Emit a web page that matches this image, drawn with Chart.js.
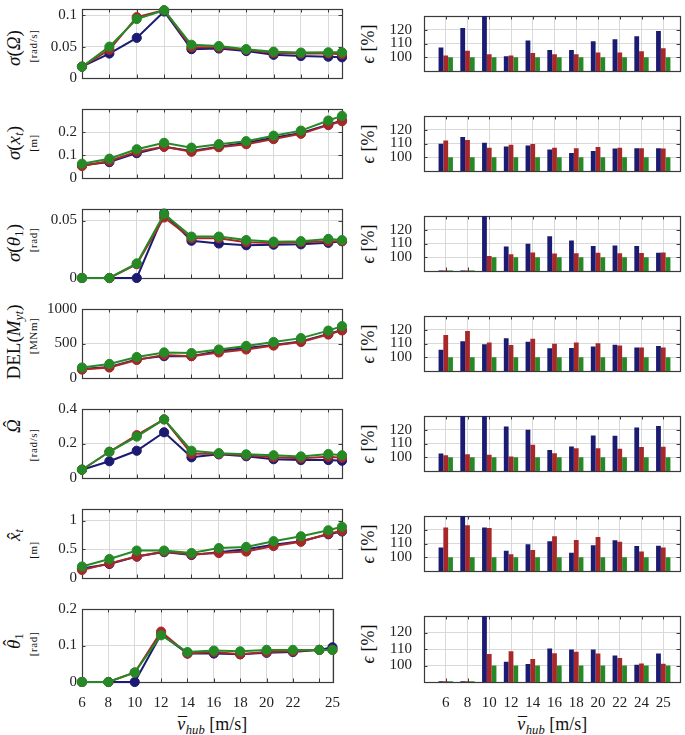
<!DOCTYPE html>
<html><head><meta charset="utf-8">
<script src="https://cdn.jsdelivr.net/npm/chart.js@4.4.1/dist/chart.umd.min.js"></script>
<style>
html,body{margin:0;padding:0;background:#fff;}
#fig{position:relative;width:685px;height:735px;overflow:hidden;font-family:"Liberation Serif",serif;color:#111;}
canvas{position:absolute;}
.lab{position:absolute;white-space:nowrap;transform:translate(-50%,-50%) rotate(-90deg);line-height:1;}
.big{font-size:19px;}
.unit{font-size:11px;letter-spacing:0.6px;}
.eps{font-size:18px;}
.xt{position:absolute;white-space:nowrap;transform:translate(-50%,-50%);font-size:18px;line-height:1;}
i{font-style:italic;}
sub{font-size:70%;vertical-align:-0.3em;line-height:0;}
.acc{display:inline-grid;justify-items:center;font-style:italic;}
.acc > span{grid-area:1 / 1;}
.acc .mk{font-style:normal;}
.acc .capHat{transform:translate(0.1em,-0.2em);}
.acc .lowHat{transform:translate(0.06em,0.02em);}
.acc .ascHat{transform:translate(0.08em,-0.16em);}
.acc .lowBar{transform:translate(0.06em,-0.02em);}
</style></head><body><div id="fig"></div>
<script>
// ---------- categories / ticks ----------
const windSpeeds = [6, 8, 10, 12, 14, 16, 18, 20, 22, 24, 25];
const windTickLabels = ['6', '8', '10', '12', '14', '16', '18', '20', '22', '', '25'];
const barCategories = ['6', '8', '10', '12', '14', '16', '18', '20', '22', '24', '25'];
const errTicks = [100, 110, 120];
const errTickLabels = ['100', '110', '120'];

// ---------- left column series (blue A, red B, green C) ----------
const sigOmegaA = [0.018, 0.039, 0.064, 0.106, 0.046, 0.047, 0.043, 0.037, 0.035, 0.034, 0.033];
const sigOmegaB = [0.018, 0.045, 0.097, 0.108, 0.049, 0.049, 0.045, 0.040, 0.039, 0.039, 0.038];
const sigOmegaC = [0.018, 0.050, 0.094, 0.108, 0.053, 0.051, 0.046, 0.042, 0.0405, 0.041, 0.041];

const sigXtA = [0.055, 0.069, 0.108, 0.136, 0.117, 0.136, 0.153, 0.175, 0.196, 0.232, 0.250];
const sigXtB = [0.052, 0.074, 0.114, 0.136, 0.114, 0.134, 0.147, 0.169, 0.192, 0.230, 0.247];
const sigXtC = [0.062, 0.084, 0.125, 0.153, 0.132, 0.147, 0.160, 0.184, 0.206, 0.250, 0.270];

const sigThetaA = [0, 0, 0, 0.056, 0.0324, 0.030, 0.0285, 0.029, 0.0293, 0.0306, 0.032];
const sigThetaB = [0, 0, 0.012, 0.0526, 0.0345, 0.0345, 0.031, 0.0305, 0.031, 0.032, 0.032];
const sigThetaC = [0, 0, 0.0127, 0.0557, 0.036, 0.036, 0.033, 0.0316, 0.032, 0.034, 0.033];

const delMytA = [130, 161, 270, 317, 317, 391, 435, 478, 530, 639, 696];
const delMytB = [122, 152, 261, 335, 317, 370, 413, 470, 522, 630, 690];
const delMytC = [152, 204, 304, 370, 361, 413, 465, 522, 578, 687, 752];

const omegaHatA = [0.048, 0.097, 0.158, 0.265, 0.120, 0.137, 0.126, 0.109, 0.104, 0.104, 0.100];
const omegaHatB = [0.048, 0.152, 0.248, 0.340, 0.140, 0.140, 0.132, 0.120, 0.114, 0.123, 0.118];
const omegaHatC = [0.048, 0.152, 0.240, 0.340, 0.158, 0.144, 0.137, 0.132, 0.125, 0.139, 0.132];

const xtHatA = [0.166, 0.244, 0.373, 0.450, 0.400, 0.450, 0.500, 0.580, 0.640, 0.760, 0.810];
const xtHatB = [0.140, 0.254, 0.373, 0.460, 0.410, 0.435, 0.460, 0.555, 0.630, 0.770, 0.820];
const xtHatC = [0.200, 0.330, 0.477, 0.477, 0.435, 0.520, 0.540, 0.640, 0.725, 0.830, 0.890];

const thetaHatA = [0, 0, 0, 0.131, 0.078, 0.078, 0.076, 0.080, 0.082, 0.088, 0.095];
const thetaHatB = [0, 0, 0.026, 0.138, 0.078, 0.082, 0.076, 0.082, 0.084, 0.088, 0.088];
const thetaHatC = [0, 0, 0.026, 0.128, 0.082, 0.086, 0.084, 0.088, 0.088, 0.088, 0.088];

// ---------- right column relative values ε [%] ----------
const errSigOmegaA = [107.1, 121.2, 135, 100.7, 112.2, 105.3, 105.3, 111.6, 113.1, 115.3, 119.1];
const errSigOmegaB = [101.2, 104.8, 102.1, 101.2, 103.1, 102.1, 102.1, 103.4, 103.4, 104.3, 106.6];
const errSigOmegaC = [100, 100, 100, 100, 100, 100, 100, 100, 100, 100, 100];

const errSigXtA = [109.8, 114.8, 110.5, 107.8, 108.6, 105.7, 103.1, 104.5, 106.4, 106.6, 106.6];
const errSigXtB = [112.1, 112.6, 106.9, 109.1, 109.6, 106.9, 106.6, 107.4, 106.9, 106.6, 106.3];
const errSigXtC = [100, 100, 100, 100, 100, 100, 100, 100, 100, 100, 100];

const errSigThetaA = [90.4, 90.4, 135, 107.8, 109.8, 115.3, 112.1, 108.1, 108.6, 108.1, 103.3];
const errSigThetaB = [90.4, 90.4, 101.0, 102.1, 103.4, 102.8, 102.9, 103.3, 102.9, 103.1, 103.4];
const errSigThetaC = [90.4, 90.4, 100, 100, 100, 100, 100, 100, 100, 100, 100];

const errDelA = [105.5, 111.7, 109.5, 113.8, 111.2, 106.6, 106.7, 107.8, 109.1, 107.1, 108.1];
const errDelB = [116.2, 119.1, 110.7, 109.0, 113.4, 109.8, 110.7, 110.2, 108.6, 107.1, 107.1];
const errDelC = [100, 100, 100, 100, 100, 100, 100, 100, 100, 100, 100];

const errOmegaHatA = [102.8, 135, 135, 122.4, 120.0, 105.3, 107.9, 115.9, 115.7, 121.7, 122.8];
const errOmegaHatB = [101.4, 102.1, 101.9, 100.5, 109.1, 102.9, 106.6, 106.6, 106.2, 107.4, 107.6];
const errOmegaHatC = [100, 100, 100, 100, 100, 100, 100, 100, 100, 100, 100];

const errXtHatA = [107.1, 131, 121.6, 104.8, 109.5, 111.6, 103.3, 108.8, 112.4, 108.1, 108.3];
const errXtHatB = [121.7, 123.3, 121.2, 102.2, 105.2, 115.3, 112.6, 114.7, 111.2, 104.1, 107.1];
const errXtHatC = [100, 100, 100, 100, 100, 100, 100, 100, 100, 100, 100];

const errThetaHatA = [90.4, 90.4, 135, 102.2, 100.9, 110.3, 109.7, 109.7, 106.0, 100.5, 107.2];
const errThetaHatB = [90.4, 90.4, 106.9, 108.6, 104.0, 107.4, 108.3, 107.2, 104.5, 101.2, 101.0];
const errThetaHatC = [90.4, 90.4, 100, 100, 100, 100, 100, 100, 100, 100, 100];

// ---------- y axis ranges / ticks for left column ----------
const yRanges = [[0, 0.11], [0, 0.3], [0, 0.06], [0, 1000], [0, 0.4], [0, 1.2], [0, 0.2]];
const yTickVals = [[0, 0.05, 0.1], [0, 0.1, 0.2], [0, 0.05], [0, 500, 1000], [0, 0.2, 0.4], [0, 0.5, 1], [0, 0.1, 0.2]];
const yTickLabels = [['0', '0.05', '0.1'], ['0', '0.1', '0.2'], ['0', '0.05'], ['0', '500', '1000'], ['0', '0.2', '0.4'], ['0', '0.5', '1'], ['0', '0.1', '0.2']];

const ACC = (base, mark, cls) => '<span class="acc"><span>' + base + '</span><span class="mk ' + cls + '">' + mark + '</span></span>';
const bigTitles = ['<i>σ</i>(<i>Ω</i>)', '<i>σ</i>(<i>x<sub>t</sub></i>)', '<i>σ</i>(<i>θ</i><sub>1</sub>)', 'DEL(<i>M<sub>yt</sub></i>)',
  ACC('Ω', 'ˆ', 'capHat'), ACC('x', 'ˆ', 'lowHat') + '<i><sub>t</sub></i>', ACC('θ', 'ˆ', 'ascHat') + '<sub>1</sub>'];
const unitTitles = ['[rad/s]', '[m]', '[rad]', '[MNm]', '[rad/s]', '[m]', '[rad]'];
const xTitle = ACC('v', '¯', 'lowBar') + '<i><sub>hub</sub></i> [m/s]';

const COL_A = '#1b1b72', COL_B = '#a8282a', COL_C = '#258a25';

// ---------- tables built from the arrays ----------
const leftSeries = [
  [sigOmegaA, sigOmegaB, sigOmegaC], [sigXtA, sigXtB, sigXtC], [sigThetaA, sigThetaB, sigThetaC],
  [delMytA, delMytB, delMytC], [omegaHatA, omegaHatB, omegaHatC], [xtHatA, xtHatB, xtHatC],
  [thetaHatA, thetaHatB, thetaHatC]
];
const rightSeries = [
  [errSigOmegaA, errSigOmegaB, errSigOmegaC], [errSigXtA, errSigXtB, errSigXtC],
  [errSigThetaA, errSigThetaB, errSigThetaC], [errDelA, errDelB, errDelC],
  [errOmegaHatA, errOmegaHatB, errOmegaHatC], [errXtHatA, errXtHatB, errXtHatC],
  [errThetaHatA, errThetaHatB, errThetaHatC]
];

// ---------- layout (pixels) ----------
const ROW_TOP0 = 5, ROW_STEP = 100, PLOT_H = 77;
const bigTitleY = [48, 143, 243, 342, 426, 535, 641];
const unitTitleY = [46, 143, 240, 336, 445, 550, 644];

Chart.defaults.font.family = "'Liberation Serif', serif";
Chart.defaults.font.size = 15;
Chart.defaults.color = '#222';

const framePlugin = {
  id: 'frame',
  beforeDatasetsDraw(chart) {
    const { ctx, chartArea: a } = chart;
    const xs = chart.scales.x, ys = chart.scales.y;
    ctx.save();
    ctx.strokeStyle = '#3a3a3a';
    ctx.lineWidth = 1;
    ctx.beginPath();
    xs.ticks.forEach(t => {
      const px = Math.round(xs.getPixelForValue(t.value)) + 0.5;
      ctx.moveTo(px, a.top); ctx.lineTo(px, a.top + 3.5);
      ctx.moveTo(px, a.bottom); ctx.lineTo(px, a.bottom - 3.5);
    });
    ys.ticks.forEach(t => {
      const py = Math.round(ys.getPixelForValue(t.value)) + 0.5;
      ctx.moveTo(a.left, py); ctx.lineTo(a.left + 3.5, py);
      ctx.moveTo(a.right, py); ctx.lineTo(a.right - 3.5, py);
    });
    ctx.stroke();
    ctx.lineWidth = 1.2;
    ctx.strokeRect(Math.round(a.left) + 0.5, Math.round(a.top) + 0.5, Math.round(a.right - a.left), Math.round(a.bottom - a.top));
    ctx.restore();
  }
};

const fig = document.getElementById('fig');

function addCanvas(left, top, w, h) {
  const c = document.createElement('canvas');
  c.width = w; c.height = h;
  c.style.left = left + 'px'; c.style.top = top + 'px';
  c.style.width = w + 'px'; c.style.height = h + 'px';
  fig.appendChild(c);
  return c;
}
function addLabel(cls, html, x, y) {
  const d = document.createElement('div');
  d.className = cls;
  d.innerHTML = html;
  d.style.left = x + 'px'; d.style.top = y + 'px';
  fig.appendChild(d);
}

const gridColor = '#d9d9d9';

for (let r = 0; r < 7; r++) {
  const T = ROW_TOP0 + r * ROW_STEP;
  const last = (r === 6);
  const xh = last ? 30 : 10;
  const cols = [COL_A, COL_B, COL_C];

  // ----- left: line chart -----
  const cL = addCanvas(40, T - 10, 312, 10 + PLOT_H + xh);
  const lineDs = leftSeries[r].map((arr, k) => ({
    data: arr.map((v, i) => ({ x: windSpeeds[i], y: v })),
    borderColor: cols[k], backgroundColor: cols[k],
    pointBackgroundColor: cols[k], pointBorderColor: cols[k],
    borderWidth: 2, pointRadius: 4.6, pointBorderWidth: 1, tension: 0,
    clip: false, order: 3 - k
  }));
  new Chart(cL, {
    type: 'line',
    data: { datasets: lineDs },
    plugins: [framePlugin],
    options: {
      responsive: false, animation: false, events: [], devicePixelRatio: 1,
      layout: { padding: { top: 10, right: 10, left: 0, bottom: 0 } },
      plugins: { legend: { display: false }, tooltip: { enabled: false } },
      scales: {
        x: {
          type: 'linear', min: 6, max: 25, offset: false,
          afterBuildTicks: s => { s.ticks = windSpeeds.map(v => ({ value: v })); },
          afterFit: s => { s.height = xh; },
          grid: { color: gridColor, drawTicks: false, offset: false },
          border: { display: false },
          ticks: { display: last, padding: 12, maxRotation: 0, autoSkip: false, callback: (v, i) => windTickLabels[i] }
        },
        y: {
          type: 'linear', min: yRanges[r][0], max: yRanges[r][1],
          afterBuildTicks: s => { s.ticks = yTickVals[r].map(v => ({ value: v })); },
          afterFit: s => { s.width = 42; },
          grid: { color: gridColor, drawTicks: false },
          border: { display: false },
          ticks: { padding: 5, callback: (v, i) => yTickLabels[r][i] }
        }
      }
    }
  });

  // ----- right: grouped bars -----
  const cR = addCanvas(380, T - 10, 305, 10 + PLOT_H + xh);
  const barDs = rightSeries[r].map((arr, k) => ({
    data: arr.map((v, i) => ({ x: i + 1, y: v })),
    backgroundColor: cols[k], borderWidth: 0,
    categoryPercentage: 0.66, barPercentage: 1.0, clip: 0
  }));
  new Chart(cR, {
    type: 'bar',
    data: { datasets: barDs },
    plugins: [framePlugin],
    options: {
      responsive: false, animation: false, events: [], devicePixelRatio: 1,
      layout: { padding: { top: 10, right: 5, left: 0, bottom: 0 } },
      plugins: { legend: { display: false }, tooltip: { enabled: false } },
      scales: {
        x: {
          type: 'linear', min: 0, max: 11.77, offset: false,
          afterBuildTicks: s => { s.ticks = barCategories.map((c, i) => ({ value: i + 1 })); },
          afterFit: s => { s.height = xh; },
          grid: { color: gridColor, drawTicks: false, offset: false },
          border: { display: false },
          ticks: { display: last, padding: 12, maxRotation: 0, autoSkip: false, callback: (v, i) => barCategories[i] }
        },
        y: {
          type: 'linear', min: 90, max: 130,
          afterBuildTicks: s => { s.ticks = errTicks.map(v => ({ value: v })); },
          afterFit: s => { s.width = 44; },
          grid: { color: gridColor, drawTicks: false },
          border: { display: false },
          ticks: { padding: 12, callback: (v, i) => errTickLabels[i] }
        }
      }
    }
  });

  // ----- titles (real text) -----
  addLabel('lab big', bigTitles[r], 13, bigTitleY[r]);
  addLabel('lab unit', unitTitles[r], 33, unitTitleY[r]);
  addLabel('lab eps', '<i>ϵ</i> [%]', 368, T + PLOT_H / 2);
}

addLabel('xt', xTitle, 212, 724);
addLabel('xt', xTitle, 552, 724);
</script>
</body></html>
